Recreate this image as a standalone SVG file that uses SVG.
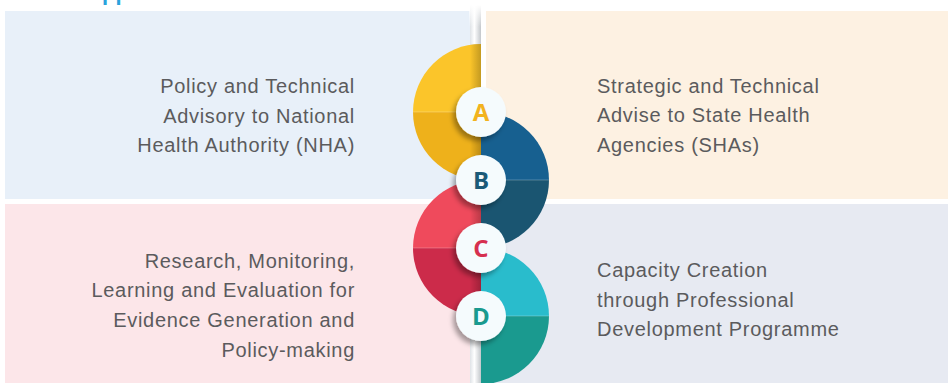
<svg xmlns="http://www.w3.org/2000/svg" width="948" height="383" viewBox="0 0 948 383">
<style>
.body{font-family:"Liberation Sans",Arial,sans-serif;font-size:20px;fill:#5b5b5d;letter-spacing:0.7px}
.r{text-anchor:end}
.letter{font-family:"Open Sans","Noto Sans",sans-serif;font-weight:700;font-size:24px;text-anchor:middle}
.badge{fill:#f5fbfd}
.div{stroke:#ffffff;stroke-opacity:0.25;stroke-width:1}
</style>
<defs>
<linearGradient id="strip" x1="0" y1="0" x2="1" y2="0">
<stop offset="0" stop-color="#dfe3e7"/>
<stop offset="0.4" stop-color="#ffffff"/>
<stop offset="1" stop-color="#c3c7cb"/>
</linearGradient>
<linearGradient id="fadeTop" x1="0" y1="0" x2="0" y2="1">
<stop offset="0" stop-color="#ffffff" stop-opacity="1"/>
<stop offset="1" stop-color="#ffffff" stop-opacity="0"/>
</linearGradient>
<linearGradient id="edgeShade" x1="0" y1="0" x2="1" y2="0">
<stop offset="0" stop-color="#000" stop-opacity="0"/>
<stop offset="1" stop-color="#000" stop-opacity="0.22"/>
</linearGradient>
<filter id="sh" x="-50%" y="-50%" width="200%" height="200%">
<feDropShadow dx="-3" dy="4" stdDeviation="2.5" flood-color="#000" flood-opacity="0.35"/>
</filter>
</defs>
<rect width="948" height="383" fill="#ffffff"/>
<text x="102" y="0" font-family="Liberation Sans,Arial,sans-serif" font-weight="700" font-size="22" fill="#2aa3dc">pp</text>
<g id="panel-a"><rect x="5" y="11" width="465" height="188" fill="#e8f0f9"/>
<text class="body r" x="355" y="93">Policy and Technical</text>
<text class="body r" x="355" y="123">Advisory to National</text>
<text class="body r" x="355" y="152">Health Authority (NHA)</text></g>
<g id="panel-b"><rect x="486" y="11" width="462" height="188" fill="#fdf1e2"/>
<text class="body" x="597" y="93">Strategic and Technical</text>
<text class="body" x="597" y="122">Advise to State Health</text>
<text class="body" x="597" y="152">Agencies (SHAs)</text></g>
<g id="panel-c"><rect x="5" y="204" width="465" height="179" fill="#fce6e9"/>
<text class="body r" x="355" y="268">Research, Monitoring,</text>
<text class="body r" x="355" y="297">Learning and Evaluation for</text>
<text class="body r" x="355" y="327">Evidence Generation and</text>
<text class="body r" x="355" y="357">Policy-making</text></g>
<g id="panel-d"><rect x="481" y="204" width="467" height="179" fill="#e7eaf2"/>
<text class="body" x="597" y="277">Capacity Creation</text>
<text class="body" x="597" y="307">through Professional</text>
<text class="body" x="597" y="336">Development Programme</text></g>
<g id="spine">
<rect x="470" y="5" width="11" height="378" fill="url(#strip)"/>
<rect x="469" y="5" width="13" height="22" fill="url(#fadeTop)"/>
<path d="M481 112 L413 112 A68 68 0 0 1 481 44 Z" fill="#fbc52a"/>
<path d="M481 112 L413 112 A68 68 0 0 0 481 180 Z" fill="#eeb11b"/>
<path d="M481 180 L549 180 A68 68 0 0 0 481 112 Z" fill="#176090"/>
<path d="M481 180 L549 180 A68 68 0 0 1 481 248 Z" fill="#1a5571"/>
<path d="M481 248 L413 248 A68 68 0 0 1 481 180 Z" fill="#ef4a5c"/>
<path d="M481 248 L413 248 A68 68 0 0 0 481 316 Z" fill="#cc2b4a"/>
<path d="M481 316 L549 316 A68 68 0 0 0 481 248 Z" fill="#29bccc"/>
<path d="M481 316 L549 316 A68 68 0 0 1 481 384 Z" fill="#1a9a8f"/>
<rect x="470" y="44" width="11" height="136" fill="url(#edgeShade)"/>
<rect x="470" y="180" width="11" height="136" fill="url(#edgeShade)"/>
<line class="div" x1="413" y1="112" x2="481" y2="112"/>
<line class="div" x1="481" y1="180" x2="549" y2="180"/>
<line class="div" x1="413" y1="248" x2="481" y2="248"/>
<line class="div" x1="481" y1="316" x2="549" y2="316"/>
</g>
<g id="badge-a"><circle class="badge" cx="481" cy="112" r="25" filter="url(#sh)"/><text class="letter" x="481" y="121" fill="#f2b31f">A</text></g>
<g id="badge-b"><circle class="badge" cx="481" cy="180" r="25" filter="url(#sh)"/><text class="letter" x="481" y="189" fill="#1b5a78">B</text></g>
<g id="badge-c"><circle class="badge" cx="481" cy="248" r="25" filter="url(#sh)"/><text class="letter" x="481" y="257" fill="#d6304f">C</text></g>
<g id="badge-d"><circle class="badge" cx="481" cy="316" r="25" filter="url(#sh)"/><text class="letter" x="481" y="325" fill="#1a9a8f">D</text></g>
</svg>
